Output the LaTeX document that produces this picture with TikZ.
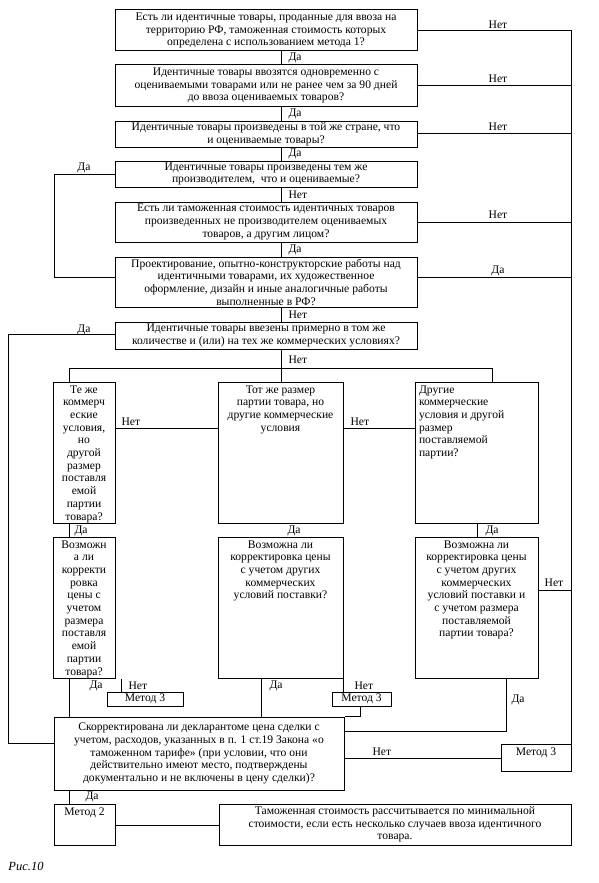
\documentclass[tikz,border=0pt]{standalone}
\usepackage{fontspec}
\setmainfont{Liberation Serif}
\newcommand\fs{\fontsize{11.6}{12.7}\selectfont}
\newcommand\BX[7][]{\node[box,#1,minimum width={(#5-#3)*1pt},minimum height={(#6-#4)*1pt}] (#2) at ({(#3+#5)/2},{(#4+#6)/2}) {#7};}
\newcommand\TB[4][\centering]{\parbox[c][#3pt][t]{#2pt}{#1\rule{0pt}{11pt}#4}}
\begin{document}
\begin{tikzpicture}[x=1pt,y=-1pt,line width=1pt,
  box/.style={draw, inner sep=0pt, align=center, font=\fs},
  lbl/.style={inner sep=0pt, font=\fs},
  lw/.style={lbl, anchor=west}]
\useasboundingbox (0,0) rectangle (599,883);
\fill[white] (0,0) rectangle (599,883);
% boxes
\BX{b1}{115}{10}{417}{51}{Есть ли идентичные товары, проданные для ввоза на\\территорию РФ, таможенная стоимость которых\\определена с использованием метода 1?}
\BX{b2}{115}{65}{417}{106}{Идентичные товары ввозятся одновременно с\\оцениваемыми товарами или не ранее чем за 90 дней\\до ввоза оцениваемых товаров?}
\BX{b3}{115}{121}{417}{147}{Идентичные товары произведены в той же стране, что\\и оцениваемые товары?}
\BX{b4}{115}{161}{417}{187}{Идентичные товары произведены тем же\\производителем,\ \ что и оцениваемые?}
\BX{b5}{115}{202}{417}{242}{Есть ли таможенная стоимость идентичных товаров\\произведенных не производителем оцениваемых\\товаров, а другим лицом?}
\BX{b6}{115}{257}{417}{307}{Проектирование, опытно-конструкторские работы над\\идентичными товарами, их художественное\\оформление, дизайн и иные аналогичные работы\\выполненные в РФ?}
\BX{b7}{115}{322}{417}{349}{Идентичные товары ввезены примерно в том же\\количестве и (или) на тех же коммерческих условиях?}
\BX{A}{53}{382}{115}{523}{\TB{62}{141}{Те же\\коммерч\\еские\\условия,\\но\\другой\\размер\\поставля\\емой\\партии\\товара?}}
\BX{B}{218}{382}{343}{523}{\TB{125}{141}{Тот же размер\\партии товара, но\\другие коммерческие\\условия}}
\BX[inner xsep=4pt]{C}{415}{382}{538}{523}{\TB[\raggedright]{115}{141}{Другие\\коммерческие\\условия и другой\\размер\\поставляемой\\партии?}}
\BX{D}{53}{537}{115}{678}{\TB{62}{141}{Возможн\\а ли\\корректи\\ровка\\цены с\\учетом\\размера\\поставля\\емой\\партии\\товара?}}
\BX{E}{218}{537}{343}{678}{\TB{125}{141}{Возможна ли\\корректировка цены\\с учетом других\\коммерческих\\условий поставки?}}
\BX{F}{415}{537}{538}{678}{\TB{123}{141}{Возможна ли\\корректировка цены\\с учетом других\\коммерческих\\условий поставки и\\с учетом размера\\поставляемой\\партии товара?}}
\BX{m3a}{107}{692}{183}{706}{Метод 3}
\BX{m3b}{332}{692}{391}{706}{Метод 3}
\BX{G}{54}{717}{344}{790}{Скорректирована ли декларантоме цена сделки с\\учетом, расходов, указанных в п. 1 ст.19 Закона «о\\таможенном тарифе» (при условии, что они\\действительно имеют место, подтверждены\\документально и не включены в цену сделки)?}
\BX{m3c}{501}{744}{571}{771}{\TB{70}{27}{Метод 3}}
\BX{m2}{54}{804}{115}{845}{\TB{61}{41}{Метод 2}}
\BX{fin}{219}{804}{571}{845}{Таможенная стоимость рассчитывается по минимальной\\стоимости, если есть несколько случаев ввоза идентичного\\товара.}
% helper coordinates
\coordinate (cx) at (281,0);
\coordinate (rx) at (571,0);
\coordinate (l1) at (54,0);
\coordinate (l2) at (8,0);
\coordinate (ax) at (69,0);
\coordinate (cc) at (492,0);
\coordinate (fx) at (477,0);
\coordinate (ex) at (261,0);
\coordinate (na) at (121,0);
\coordinate (mb) at (360,0);
\coordinate (fd) at (506,0);
% connectors
\draw (b1.east) -| (m3c.north east);
\foreach \n in {b2,b5} \draw (\n.east) -- (\n.east -| rx);
\draw (b3.east |- 0,133) -- (rx |- 0,133);
\draw (b6.east |- 0,277) -- (rx |- 0,277);
\draw (F.east |- 0,590) -- (rx |- 0,590);
\foreach \a/\b in {b1/b2,b2/b3,b3/b4,b4/b5,b5/b6,b6/b7,b7/B} \draw (\a.south -| cx) -- (\b.north -| cx);
\draw (A.north -| ax) -- (ax |- 0,368) -- (cc |- 0,368) -- (C.north -| cc);
\draw (b4.west) -- (b4.west -| l1) |- (b6.west |- 0,277);
\draw (b7.west |- 0,334) -- (l2 |- 0,334) |- (G.west |- 0,743);
\draw (A.east |- 0,428) -- (B.west |- 0,428);
\draw (B.east |- 0,428) -- (C.west |- 0,428);
\draw (A.south -| ax) -- (D.north -| ax);
\draw (C.south -| fx) -- (F.north -| fx);
\draw (D.south -| ax) -- (G.north -| ax);
\draw (D.south -| na) -- (m3a.north -| na);
\draw (E.south -| ex) -- (G.north -| ex);
\draw (E.south east) -- (m3b.north -| E.east);
\draw (m3b.south -| mb) |- (G.north east);
\draw (F.south -| fd) |- (G.east |- 0,731);
\draw (G.east |- 0,758) -- (m3c.west |- 0,758);
\draw (G.south -| ax) -- (m2.north -| ax);
\draw (m2.east |- 0,825) -- (fin.west |- 0,825);
% labels
\node[lw] (t1) at (288,58) {Да};
\node[lw] (t2) at (288,113.5) {Да};
\node[lw] (t3) at (288,154) {Да};
\node[lw] (t4) at (288,194.5) {Нет};
\node[lw] (t5) at (288,249.5) {Да};
\node[lw] (t6) at (288,314.5) {Нет};
\node[lw] (t7) at (288,360) {Нет};
\node[lbl] (r1) at (498,25) {Нет};
\node[lbl] (r2) at (498,79) {Нет};
\node[lbl] (r3) at (498,127) {Нет};
\node[lbl] (r4) at (498,215) {Нет};
\node[lbl] (r5) at (498,271) {Да};
\node[lbl] (r6) at (554,583) {Нет};
\node[lbl] (y1) at (84,168) {Да};
\node[lbl] (y2) at (84,330) {Да};
\node[lw] (n1) at (121,422) {Нет};
\node[lw] (n2) at (350,422) {Нет};
\node[lw] (d1) at (74,531) {Да};
\node[lw] (d2) at (287,531) {Да};
\node[lw] (d3) at (485,531) {Да};
\node[lw] (e1) at (89,686) {Да};
\node[lw] (e2) at (128,686) {Нет};
\node[lw] (e3) at (269,686) {Да};
\node[lw] (e4) at (354,686) {Нет};
\node[lw] (e5) at (511,700) {Да};
\node[lw] (g1) at (372,752) {Нет};
\node[lw] (g2) at (85,797) {Да};
\node[lw, font=\fontsize{12.5}{14}\selectfont\itshape] (cap) at (8,866) {Рис.10};
\end{tikzpicture}
\end{document}
